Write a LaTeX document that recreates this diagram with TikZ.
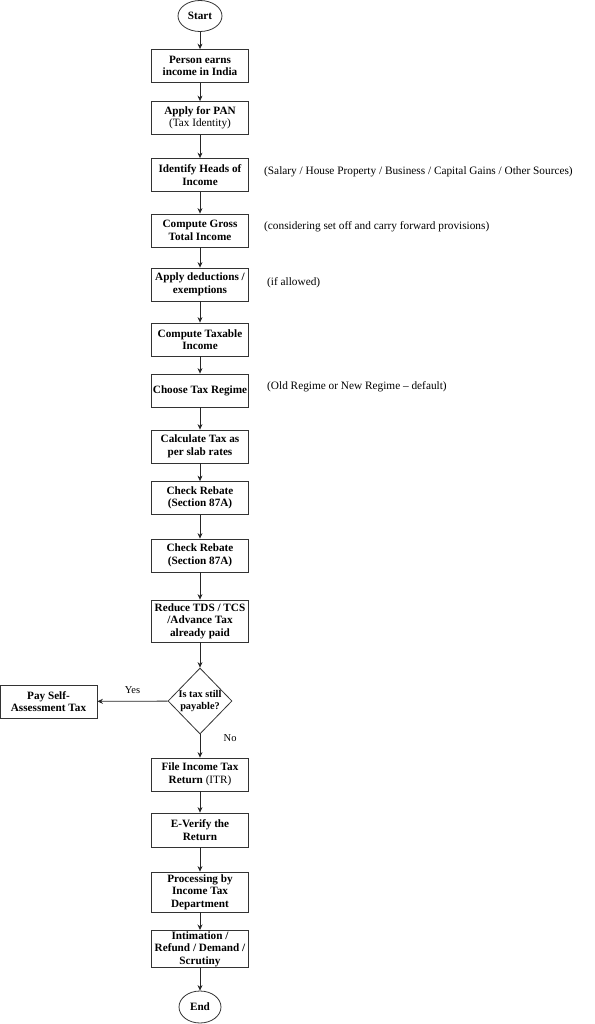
\documentclass[tikz,border=0pt]{standalone}
\usepackage{fontspec}
\setmainfont{Liberation Serif}
\usetikzlibrary{arrows.meta,shapes.geometric}

\begin{document}
\begin{tikzpicture}[x=1pt, y=-1pt,
        box/.style={draw=black!80, line width=.8pt, minimum width=97pt, minimum height=33pt, inner sep=1pt, align=center, font=\fontsize{11.2}{12.5}\selectfont\bfseries},
        term/.style={draw=black!80, line width=.8pt, ellipse, minimum width=44pt, minimum height=31pt, inner sep=0pt, font=\fontsize{11.2}{12.5}\selectfont\bfseries},
        decision/.style={draw=black!80, line width=.8pt, diamond, minimum width=64pt, minimum height=66pt, inner sep=0pt, align=center, font=\fontsize{10.3}{11.5}\selectfont\bfseries},
        note/.style={anchor=west, inner sep=2pt, font=\fontsize{11.3}{12.5}\selectfont},
        flow/.style={-{Stealth[length=5.5pt, width=5pt]}, line width=.8pt, draw=black!85}]
        \useasboundingbox (0,0) rectangle (594,1024);
        \node [term] (start) at (200,16) {Start};
        \node [box] (earn) at (200,66) {Person earns\\income in India};
        \node [box] (pan) at (200,118) {Apply for PAN\\{\mdseries(Tax Identity)}};
        \node [box] (heads) at (200,175) {Identify Heads of\\Income};
        \node [box] (gross) at (200,230.5) {Compute Gross\\Total Income};
        \node [box] (deduct) at (200,284.5) {Apply deductions /\\exemptions};
        \node [box] (taxable) at (200,339.5) {Compute Taxable\\Income};
        \node [box] (regime) at (200,390.5) {Choose Tax Regime};
        \node [box] (slab) at (200,446.5) {Calculate Tax as\\per slab rates};
        \node [box] (rebatea) at (200,498) {Check Rebate\\(Section 87A)};
        \node [box] (rebateb) at (200,555.5) {Check Rebate\\(Section 87A)};
        \node [box, minimum height=42pt] (reduce) at (200,621) {Reduce TDS / TCS\\/Advance Tax\\already paid};
        \node [decision] (payable) at (200,701) {Is tax still\\payable?};
        \node [box] (selfassess) at (48.5,701.5) {Pay Self-\\Assessment Tax};
        \node [box] (itr) at (200,774.5) {File Income Tax\\Return {\mdseries(ITR)}};
        \node [box, minimum height=34pt] (verify) at (200,830) {E-Verify the\\Return};
        \node [box, minimum height=40pt] (processing) at (200,892) {Processing by\\Income Tax\\Department};
        \node [box, minimum height=36pt] (intimation) at (200,949) {Intimation /\\Refund / Demand /\\Scrutiny};
        \node [term, minimum width=42pt, minimum height=32pt] (end) at (200,1007) {End};

        \node [note] (headsnote) at (262,172) {(Salary / House Property / Business / Capital Gains / Other Sources)};
        \node [note] (grossnote) at (262,227) {(considering set off and carry forward provisions)};
        \node [note] (deductnote) at (265,283) {(if allowed)};
        \node [note] (regimenote) at (265,387) {(Old Regime or New Regime \textendash{} default)};

        \draw [flow] (start) -- (earn);
        \draw [flow] (earn) -- (pan);
        \draw [flow] (pan) -- (heads);
        \draw [flow] (heads) -- (gross);
        \draw [flow] (gross) -- (deduct);
        \draw [flow] (deduct) -- (taxable);
        \draw [flow] (taxable) -- (regime);
        \draw [flow] (regime) -- (slab);
        \draw [flow] (slab) -- (rebatea);
        \draw [flow] (rebatea) -- (rebateb);
        \draw [flow] (rebateb) -- (reduce);
        \draw [flow] (reduce) -- (payable);
        \draw [flow] (payable) -- node [above=4pt, font=\fontsize{10.5}{12}\selectfont] (yes) {Yes} (selfassess);
        \draw [flow] (payable) -- node [pos=.15, right=20pt, font=\fontsize{10.5}{12}\selectfont] (no) {No} (itr);
        \draw [flow] (itr) -- (verify);
        \draw [flow] (verify) -- (processing);
        \draw [flow] (processing) -- (intimation);
        \draw [flow] (intimation) -- (end);
    \end{tikzpicture}
\end{document}
